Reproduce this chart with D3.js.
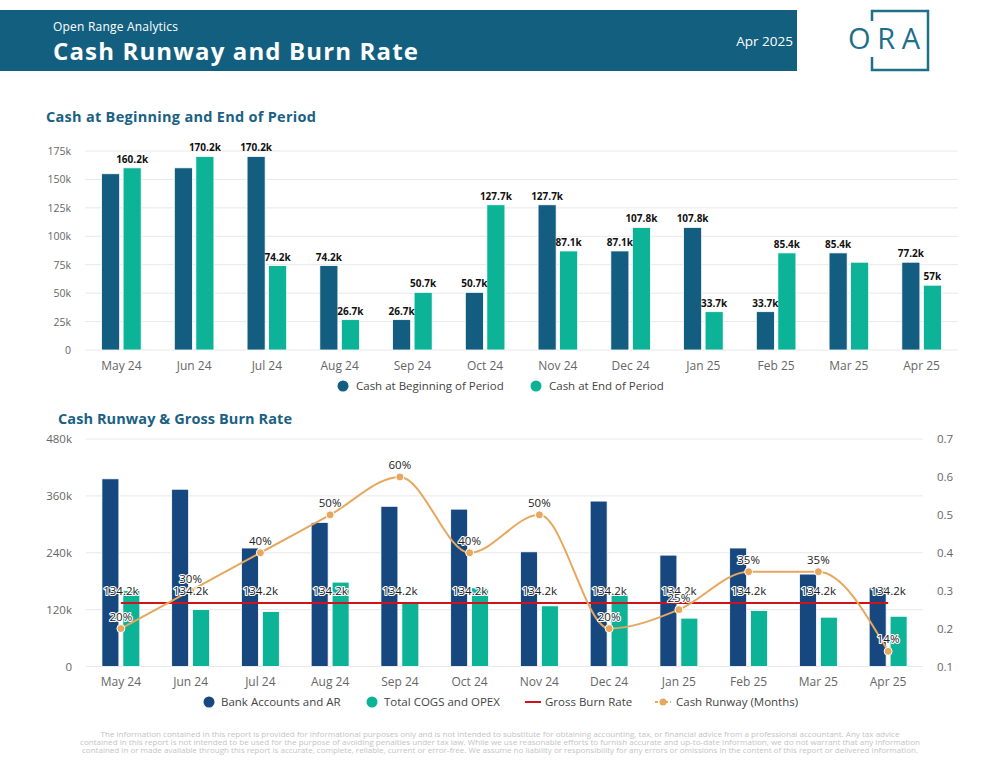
<!DOCTYPE html>
<html>
<head>
<meta charset="utf-8">
<script src="https://cdn.jsdelivr.net/npm/d3@7"></script>
<style>
  body { margin: 0; background: #fff; }
  svg { display: block; font-family: "Open Sans", sans-serif; }
</style>
</head>
<body>
<svg id="page" width="1000" height="773"></svg>
<script>
// ---- data ----
const months = ["May 24", "Jun 24", "Jul 24", "Aug 24", "Sep 24", "Oct 24",
                "Nov 24", "Dec 24", "Jan 25", "Feb 25", "Mar 25", "Apr 25"];

const cashBegin = [155000, 160200, 170200, 74200, 26700, 50700, 127700, 87100, 107800, 33700, 85400, 77200];
const cashEnd   = [160200, 170200, 74200, 26700, 50700, 127700, 87100, 107800, 33700, 85400, 77200, 57000];
const beginLabelShown = [false, false, true, true, true, true, true, true, true, true, true, true];
const endLabelShown   = [true, true, true, true, true, true, true, true, true, true, false, true];
const cashTicks = [0, 25000, 50000, 75000, 100000, 125000, 150000, 175000];

const bankAccounts = [396000, 374000, 250000, 304000, 338000, 332000, 242000, 349000, 235000, 250000, 195000, 167000];
const cogsOpex     = [160000, 120000, 116000, 178000, 133000, 166000, 128000, 153000, 102000, 118000, 104000, 106000];
const burnRate     = [134200, 134200, 134200, 134200, 134200, 134200, 134200, 134200, 134200, 134200, 134200, 134200];
const cashRunway   = [0.20, 0.30, 0.40, 0.50, 0.60, 0.40, 0.50, 0.20, 0.25, 0.35, 0.35, 0.14];
const leftTicks  = [0, 120000, 240000, 360000, 480000];
const rightTicks = [0.1, 0.2, 0.3, 0.4, 0.5, 0.6, 0.7];

const disclaimer = [
  "The information contained in this report is provided for informational purposes only and is not intended to substitute for obtaining accounting, tax, or financial advice from a professional accountant. Any tax advice",
  "contained in this report is not intended to be used for the purpose of avoiding penalties under tax law. While we use reasonable efforts to furnish accurate and up-to-date information, we do not warrant that any information",
  "contained in or made available through this report is accurate, complete, reliable, current or error-free. We assume no liability or responsibility for any errors or omissions in the content of this report or delivered information."
];

// ---- colours ----
const HEADER = "#135f80";
const DARK = "#135d80";
const NAVY = "#17477f";
const TEAL = "#0cb396";
const RED = "#d0121b";
const ORANGE = "#e6a75e";
const GRID = "#e8e8e8";
const AXIS_TEXT = "#666";

const svg = d3.select("#page");

const kFormat = v => v === 0 ? "0" : (+(v / 1000).toFixed(1)) + "k";

function drawHeader(g) {
    g.append("rect")
        .attr("x", 0).attr("y", 10)
        .attr("width", 797).attr("height", 61)
        .attr("fill", HEADER);
    g.append("text")
        .attr("x", 53).attr("y", 31)
        .attr("fill", "white")
        .attr("font-size", 12)
        .attr("textLength", 125)
        .text("Open Range Analytics");
    g.append("text")
        .attr("x", 53).attr("y", 60)
        .attr("fill", "white")
        .attr("font-size", 24)
        .attr("font-weight", 700)
        .attr("textLength", 365)
        .text("Cash Runway and Burn Rate");
    g.append("text")
        .attr("x", 793).attr("y", 46)
        .attr("text-anchor", "end")
        .attr("fill", "white")
        .attr("font-size", 13.5)
        .text("Apr 2025");

    // logo: square with gap on left side behind the O
    g.append("path")
        .attr("d", "M872,21 L872,11 L928,11 L928,70 L872,70 L872,57")
        .attr("stroke", "#1d6f8a").attr("stroke-width", 2.5).attr("fill", "none");
    g.append("text")
        .attr("x", 848).attr("y", 49)
        .attr("fill", "#1d6f8a")
        .attr("font-size", 29)
        .attr("textLength", 72)
        .text("ORA");
}

function drawTopChart(g) {
    const x0 = d3.scaleBand().domain(months).range([85, 958]);
    const x1 = d3.scaleBand().domain(["begin", "end"])
        .range([0, x0.bandwidth()])
        .paddingInner(0.16).paddingOuter(0.77);
    const y = d3.scaleLinear().domain([0, 175000]).range([350, 151]);

    g.append("text")
        .attr("x", 46).attr("y", 122)
        .attr("fill", "#1a6184")
        .attr("font-size", 14.5)
        .attr("font-weight", 700)
        .attr("textLength", 270)
        .text("Cash at Beginning and End of Period");

    // grid + y axis
    g.append("g").selectAll("line")
        .data(cashTicks).join("line")
        .attr("x1", 85).attr("x2", 958)
        .attr("y1", d => y(d)).attr("y2", d => y(d))
        .attr("stroke", GRID);
    g.append("g").selectAll("text")
        .data(cashTicks).join("text")
        .attr("x", 71).attr("y", d => y(d) + 4)
        .attr("text-anchor", "end")
        .attr("font-size", 10.5)
        .attr("fill", AXIS_TEXT)
        .text(kFormat);

    // x labels
    g.append("g").selectAll("text")
        .data(months).join("text")
        .attr("x", d => x0(d) + x0.bandwidth() / 2)
        .attr("y", 370)
        .attr("text-anchor", "middle")
        .attr("font-size", 12)
        .attr("fill", AXIS_TEXT)
        .text(d => d);

    const rows = months.map((m, i) => [
        { m, key: "begin", v: cashBegin[i], show: beginLabelShown[i], color: DARK },
        { m, key: "end", v: cashEnd[i], show: endLabelShown[i], color: TEAL }
    ]).flat();

    g.append("g").selectAll("rect")
        .data(rows).join("rect")
        .attr("x", d => x0(d.m) + x1(d.key))
        .attr("width", x1.bandwidth())
        .attr("y", d => y(d.v))
        .attr("height", d => y(0) - y(d.v))
        .attr("fill", d => d.color)
        .attr("stroke", "white").attr("stroke-width", 0.8);

    g.append("g").selectAll("text")
        .data(rows.filter(d => d.show)).join("text")
        .attr("x", d => x0(d.m) + x1(d.key) + x1.bandwidth() / 2)
        .attr("y", d => y(d.v) - 5)
        .attr("text-anchor", "middle")
        .attr("font-size", 10)
        .attr("font-weight", 700)
        .attr("fill", "#111")
        .text(d => kFormat(d.v));

    // legend
    const legend = g.append("g").attr("font-size", 11.5).attr("fill", "#444");
    legend.append("circle").attr("cx", 343).attr("cy", 386).attr("r", 5.5).attr("fill", DARK);
    legend.append("text").attr("x", 356).attr("y", 390).text("Cash at Beginning of Period");
    legend.append("circle").attr("cx", 536).attr("cy", 386).attr("r", 5.5).attr("fill", TEAL);
    legend.append("text").attr("x", 549).attr("y", 390).text("Cash at End of Period");
}

function drawBottomChart(g) {
    const x0 = d3.scaleBand().domain(months).range([86, 923]);
    const x1 = d3.scaleBand().domain(["bank", "cogs"])
        .range([0, x0.bandwidth()])
        .paddingInner(0.19).paddingOuter(0.76);
    const yL = d3.scaleLinear().domain([0, 480000]).range([666.5, 439]);
    const yR = d3.scaleLinear().domain([0.1, 0.7]).range([666.5, 439]);
    const cx = m => x0(m) + x0.bandwidth() / 2;

    g.append("text")
        .attr("x", 58).attr("y", 424)
        .attr("fill", "#1a6184")
        .attr("font-size", 14.5)
        .attr("font-weight", 700)
        .attr("textLength", 234)
        .text("Cash Runway & Gross Burn Rate");

    g.append("g").selectAll("line")
        .data(leftTicks).join("line")
        .attr("x1", 86).attr("x2", 923)
        .attr("y1", d => yL(d)).attr("y2", d => yL(d))
        .attr("stroke", GRID);
    g.append("g").selectAll("text")
        .data(leftTicks).join("text")
        .attr("x", 72).attr("y", d => yL(d) + 4)
        .attr("text-anchor", "end")
        .attr("font-size", 11.5)
        .attr("fill", AXIS_TEXT)
        .text(kFormat);
    g.append("g").selectAll("text")
        .data(rightTicks).join("text")
        .attr("x", 937).attr("y", d => yR(d) + 4)
        .attr("font-size", 11.5)
        .attr("fill", AXIS_TEXT)
        .text(d3.format(".1f"));

    g.append("g").selectAll("text")
        .data(months).join("text")
        .attr("x", cx)
        .attr("y", 686)
        .attr("text-anchor", "middle")
        .attr("font-size", 12)
        .attr("fill", AXIS_TEXT)
        .text(d => d);

    const rows = months.map((m, i) => [
        { m, key: "bank", v: bankAccounts[i], color: NAVY },
        { m, key: "cogs", v: cogsOpex[i], color: TEAL }
    ]).flat();

    g.append("g").selectAll("rect")
        .data(rows).join("rect")
        .attr("x", d => x0(d.m) + x1(d.key))
        .attr("width", x1.bandwidth())
        .attr("y", d => yL(d.v))
        .attr("height", d => yL(0) - yL(d.v))
        .attr("fill", d => d.color)
        .attr("stroke", "white").attr("stroke-width", 0.8);

    // gross burn rate
    const burnLine = d3.line()
        .x((d, i) => cx(months[i]))
        .y(d => yL(d));
    g.append("path")
        .datum(burnRate)
        .attr("d", burnLine)
        .attr("fill", "none")
        .attr("stroke", RED)
        .attr("stroke-width", 2);

    // cash runway
    const runwayLine = d3.line()
        .x((d, i) => cx(months[i]))
        .y(d => yR(d))
        .curve(d3.curveMonotoneX);
    g.append("path")
        .datum(cashRunway)
        .attr("d", runwayLine)
        .attr("fill", "none")
        .attr("stroke", ORANGE)
        .attr("stroke-width", 2);
    g.append("g").selectAll("circle")
        .data(cashRunway).join("circle")
        .attr("cx", (d, i) => cx(months[i]))
        .attr("cy", d => yR(d))
        .attr("r", 4)
        .attr("fill", ORANGE)
        .attr("stroke", "white").attr("stroke-width", 1);

    const labelStyle = sel => sel
        .attr("text-anchor", "middle")
        .attr("font-size", 11.5)
        .attr("fill", "#222")
        .attr("stroke", "white")
        .attr("stroke-width", 2.2)
        .attr("paint-order", "stroke")
        .attr("stroke-linejoin", "round");

    g.append("g").selectAll("text")
        .data(burnRate).join("text")
        .attr("x", (d, i) => cx(months[i]))
        .attr("y", d => yL(d) - 8)
        .call(labelStyle)
        .text(kFormat);

    g.append("g").selectAll("text")
        .data(cashRunway).join("text")
        .attr("x", (d, i) => cx(months[i]))
        .attr("y", d => yR(d) - 8)
        .call(labelStyle)
        .text(d3.format(".0%"));

    // legend
    const legend = g.append("g").attr("font-size", 11.5).attr("fill", "#444");
    legend.append("circle").attr("cx", 209).attr("cy", 702).attr("r", 5.5).attr("fill", NAVY);
    legend.append("text").attr("x", 221).attr("y", 706).text("Bank Accounts and AR");
    legend.append("circle").attr("cx", 372).attr("cy", 702).attr("r", 5.5).attr("fill", TEAL);
    legend.append("text").attr("x", 384).attr("y", 706).text("Total COGS and OPEX");
    legend.append("line").attr("x1", 525).attr("x2", 541).attr("y1", 702).attr("y2", 702)
        .attr("stroke", RED).attr("stroke-width", 2);
    legend.append("text").attr("x", 545).attr("y", 706).text("Gross Burn Rate");
    legend.append("line").attr("x1", 655).attr("x2", 671).attr("y1", 702).attr("y2", 702)
        .attr("stroke", ORANGE).attr("stroke-width", 2).attr("stroke-dasharray", "3,2");
    legend.append("circle").attr("cx", 663).attr("cy", 702).attr("r", 3.5).attr("fill", ORANGE);
    legend.append("text").attr("x", 676).attr("y", 706).text("Cash Runway (Months)");
}

function drawFooter(g) {
    const widths = [799, 840, 836];
    g.selectAll("text")
        .data(disclaimer).join("text")
        .attr("x", 500)
        .attr("y", (d, i) => 737 + i * 8)
        .attr("text-anchor", "middle")
        .attr("font-size", 7.2)
        .attr("fill", "#c4c4c4")
        .attr("textLength", (d, i) => widths[i])
        .attr("lengthAdjust", "spacingAndGlyphs")
        .text(d => d);
}

drawHeader(svg.append("g"));
drawTopChart(svg.append("g"));
drawBottomChart(svg.append("g"));
drawFooter(svg.append("g"));
</script>
</body>
</html>
